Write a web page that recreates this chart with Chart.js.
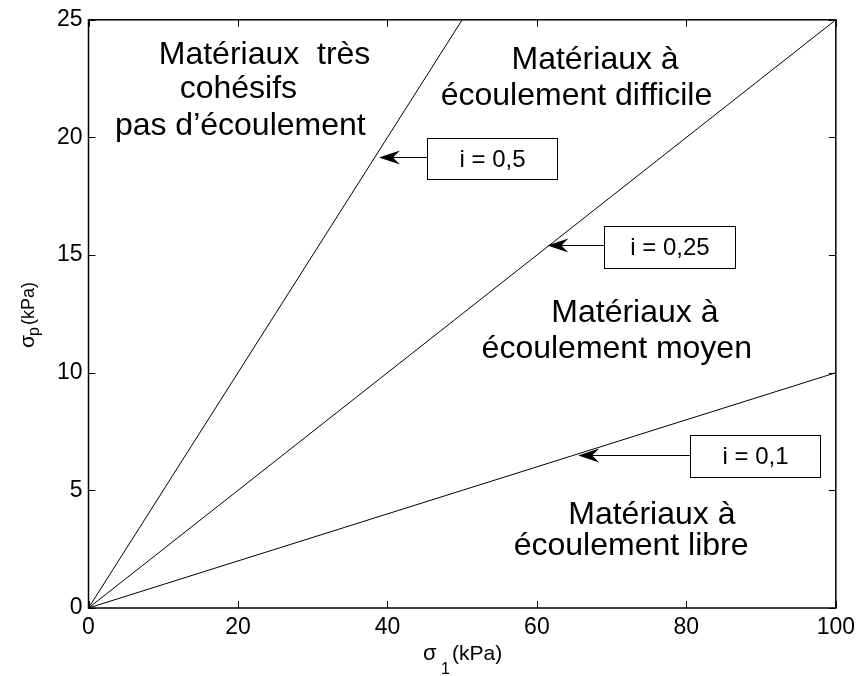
<!DOCTYPE html>
<html>
<head>
<meta charset="utf-8">
<script src="https://cdn.jsdelivr.net/npm/chart.js@4"></script>
<style>
  body { margin: 0; background: #fff; }
  #wrap { width: 861px; height: 676px; }
</style>
</head>
<body>
<div id="wrap"><canvas id="chart" width="861" height="676"></canvas></div>
<script>
// Droites sigma_p = i * sigma_1 (kPa)
const sigma1_05 = [0, 50];
const sigmaP_05 = [0, 25];
const sigma1_025 = [0, 100];
const sigmaP_025 = [0, 25];
const sigma1_01 = [0, 100];
const sigmaP_01 = [0, 10];

const xTicks = [0, 20, 40, 60, 80, 100];
const yTicks = [0, 5, 10, 15, 20, 25];

// étiquettes des droites (cadre + flèche), en unités de données
const slopeLabels = ['i = 0,5', 'i = 0,25', 'i = 0,1'];
const boxLeft = [45.27, 69.0, 80.47];
const boxRight = [62.73, 86.47, 97.93];
const boxTop = [19.97, 16.22, 7.35];
const boxBottom = [18.24, 14.44, 5.57];
const arrowY = [19.17, 15.41, 6.50];
const arrowTipX = [38.87, 61.4, 65.53];

// textes des zones
const zoneLines = ['Matériaux  très', 'cohésifs', 'pas d\u2019écoulement',
  'Matériaux à', 'écoulement difficile',
  'Matériaux à', 'écoulement moyen',
  'Matériaux à', 'écoulement libre'];
const zoneX = [9.4, 12.2, 3.53, 56.6, 47.13, 61.93, 52.6, 64.2, 56.9];
const zoneY = [23.14, 21.66, 20.1, 22.93, 21.37, 12.16, 10.64, 3.59, 2.24];

const FONT = '"Liberation Sans", Arial, sans-serif';
const toPts = (xs, ys) => xs.map((x, i) => ({ x: x, y: ys[i] }));

const lineDs = (xs, ys) => ({
    data: toPts(xs, ys),
    borderColor: '#000',
    borderWidth: 1,
    pointRadius: 0,
    fill: false,
    tension: 0
});

const decorPlugin = {
    id: 'decor',
    afterDraw(chart) {
        const ctx = chart.ctx;
        const xs = chart.scales.x, ys = chart.scales.y;
        const a = chart.chartArea;
        ctx.save();
        ctx.fillStyle = '#000';
        ctx.strokeStyle = '#000';

        // cadre
        ctx.lineWidth = 1.5;
        ctx.strokeRect(a.left, a.top, a.right - a.left, a.bottom - a.top);

        // graduations intérieures sur les 4 côtés
        ctx.lineWidth = 1;
        const tl = 7;
        ctx.beginPath();
        xTicks.forEach(v => {
            const px = Math.round(xs.getPixelForValue(v)) + 0.5;
            ctx.moveTo(px, a.bottom); ctx.lineTo(px, a.bottom - tl);
            ctx.moveTo(px, a.top); ctx.lineTo(px, a.top + tl);
        });
        yTicks.forEach(v => {
            const py = Math.round(ys.getPixelForValue(v)) + 0.5;
            ctx.moveTo(a.left, py); ctx.lineTo(a.left + tl, py);
            ctx.moveTo(a.right, py); ctx.lineTo(a.right - tl, py);
        });
        ctx.stroke();

        // textes des zones
        ctx.font = '32px ' + FONT;
        ctx.textAlign = 'left';
        ctx.textBaseline = 'alphabetic';
        zoneLines.forEach((t, i) => {
            ctx.fillText(t, xs.getPixelForValue(zoneX[i]), ys.getPixelForValue(zoneY[i]));
        });

        // cadres et flèches
        slopeLabels.forEach((t, i) => {
            const l = Math.round(xs.getPixelForValue(boxLeft[i])) + 0.5;
            const r = Math.round(xs.getPixelForValue(boxRight[i])) + 0.5;
            const tp = Math.round(ys.getPixelForValue(boxTop[i])) + 0.5;
            const bt = Math.round(ys.getPixelForValue(boxBottom[i])) + 0.5;
            ctx.fillStyle = '#fff';
            ctx.fillRect(l, tp, r - l, bt - tp);
            ctx.fillStyle = '#000';
            ctx.lineWidth = 1;
            ctx.strokeRect(l, tp, r - l, bt - tp);
            ctx.font = '24px ' + FONT;
            ctx.textAlign = 'center';
            ctx.textBaseline = 'middle';
            ctx.fillText(t, (l + r) / 2, (tp + bt) / 2 + 1);

            const ay = Math.round(ys.getPixelForValue(arrowY[i])) + 0.5;
            const tip = xs.getPixelForValue(arrowTipX[i]);
            ctx.beginPath();
            ctx.moveTo(l, ay); ctx.lineTo(tip + 12, ay);
            ctx.stroke();
            ctx.beginPath();
            ctx.moveTo(tip, ay);
            ctx.lineTo(tip + 21, ay - 7);
            ctx.lineTo(tip + 14, ay);
            ctx.lineTo(tip + 21, ay + 7);
            ctx.closePath();
            ctx.fill();
        });

        // titre de l'axe x : sigma_1 (kPa)
        ctx.textAlign = 'left';
        ctx.textBaseline = 'alphabetic';
        ctx.font = '22px ' + FONT;
        ctx.fillText('\u03c3', 423, 660);
        ctx.font = '16px ' + FONT;
        ctx.fillText('1', 441, 674);
        ctx.font = '21px ' + FONT;
        ctx.fillText('(kPa)', 452, 660);

        // titre de l'axe y : sigma_p (kPa)
        ctx.save();
        ctx.translate(34, 348);
        ctx.rotate(-Math.PI / 2);
        ctx.font = '21px ' + FONT;
        ctx.fillText('\u03c3', 0, 0);
        ctx.font = '16px ' + FONT;
        ctx.fillText('p', 12, 5);
        ctx.font = '18px ' + FONT;
        ctx.fillText('(kPa)', 23, 0);
        ctx.restore();

        ctx.restore();
    }
};

new Chart(document.getElementById('chart').getContext('2d'), {
    type: 'line',
    data: {
        datasets: [
            lineDs(sigma1_05, sigmaP_05),
            lineDs(sigma1_025, sigmaP_025),
            lineDs(sigma1_01, sigmaP_01)
        ]
    },
    options: {
        responsive: false,
        animation: false,
        layout: { padding: { left: 0, top: 16, right: 22.5, bottom: 0 } },
        plugins: { legend: { display: false }, tooltip: { enabled: false } },
        scales: {
            x: {
                type: 'linear', min: 0, max: 100,
                afterFit: s => { s.height = 68; },
                afterBuildTicks: s => { s.ticks = xTicks.map(v => ({ value: v })); },
                grid: { display: false, drawTicks: false },
                border: { display: false },
                ticks: { color: '#000', padding: 6, maxRotation: 0, font: { family: FONT, size: 23 } }
            },
            y: {
                type: 'linear', min: 0, max: 25,
                afterFit: s => { s.width = 88.5; },
                afterBuildTicks: s => { s.ticks = yTicks.map(v => ({ value: v })); },
                grid: { display: false, drawTicks: false },
                border: { display: false },
                ticks: { color: '#000', padding: 6, font: { family: FONT, size: 23 } }
            }
        }
    },
    plugins: [decorPlugin]
});
</script>
</body>
</html>
